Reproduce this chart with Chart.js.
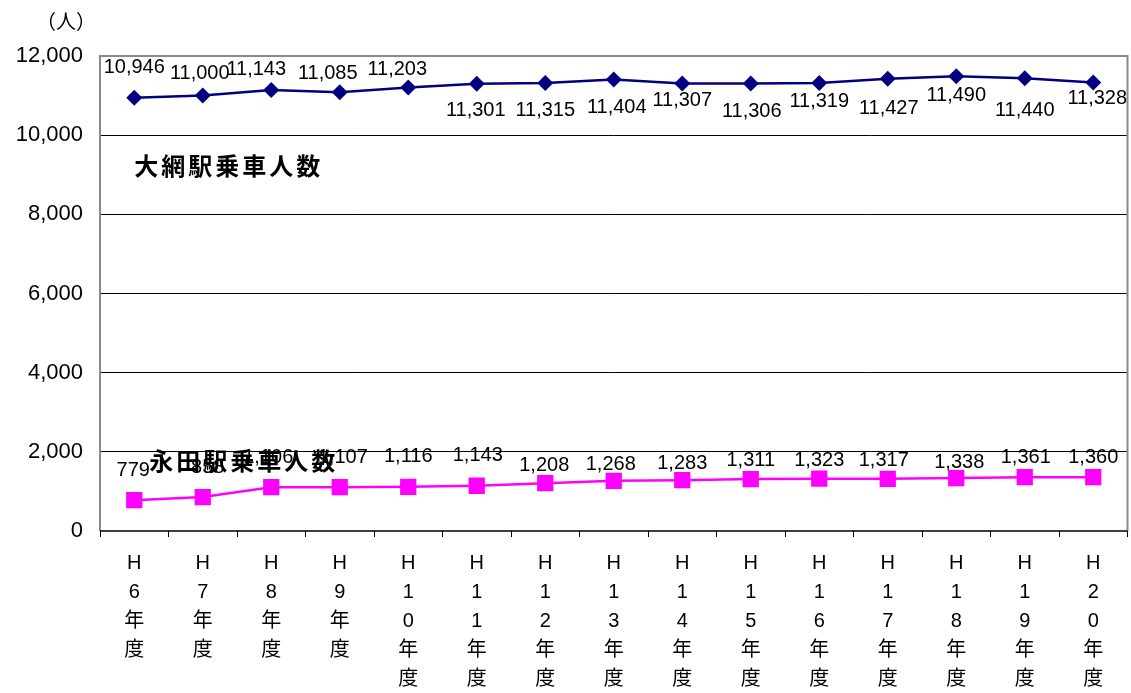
<!DOCTYPE html>
<html>
<head>
<meta charset="utf-8">
<script src="https://cdn.jsdelivr.net/npm/chart.js@4"></script>
<style>
  body { margin: 0; background: #fff; }
  #wrap { position: relative; width: 1131px; height: 693px; }
</style>
</head>
<body>
<div id="wrap"><canvas id="chart" width="1131" height="693"></canvas></div>
<script>
const years = ['6', '7', '8', '9', '10', '11', '12', '13', '14', '15', '16', '17', '18', '19', '20'];
const oamiRiders = [10946, 11000, 11143, 11085, 11203, 11301, 11315, 11404, 11307, 11306, 11319, 11427, 11490, 11440, 11328];
const nagataRiders = [779, 858, 1106, 1107, 1116, 1143, 1208, 1268, 1283, 1311, 1323, 1317, 1338, 1361, 1360];
const yTicks = [0, 2000, 4000, 6000, 8000, 10000, 12000];
const seriesNames = ['大網駅乗車人数', '永田駅乗車人数'];
const unitLabel = '（人）';

// label offsets from each point (px), as laid out in the original
const oamiOffsets = [[0, -30], [-3, -22], [-15, -20], [-12, -19], [-11, -18], [-1, 27], [0, 27], [3, 28], [0, 17], [1, 28], [0, 19], [1, 30], [0, 19], [0, 32], [4, 16]];
const nagataOffsets = [[-1, -30], [5, -30], [-3, -30], [3, -30], [0, -30], [1, -30], [-1, -18], [-3, -16], [0, -17], [0, -19], [0, -18], [-4, -18], [3, -16], [1, -20], [0, -20]];

const FONT = '"Liberation Sans", "Noto Sans CJK JP", sans-serif';
const JP = '"Noto Sans CJK JP", sans-serif';

// year label "H 1 0 年 度" stacked one character per line
const labels = years.map((y) => ['H', ...y.split(''), '年', '度']);

function fmt(v) {
  return v.toLocaleString('en-US');
}

const decor = {
  id: 'decor',
  beforeDatasetsDraw(chart) {
    const { ctx, chartArea: a } = chart;
    ctx.save();
    ctx.strokeStyle = '#8a8a8a';
    ctx.lineWidth = 2;
    ctx.beginPath();
    ctx.moveTo(a.left, a.bottom);
    ctx.lineTo(a.left, a.top);
    ctx.lineTo(a.right, a.top);
    ctx.lineTo(a.right, a.bottom);
    ctx.stroke();
    ctx.strokeStyle = '#000';
    ctx.lineWidth = 1.5;
    ctx.beginPath();
    ctx.moveTo(a.left, a.bottom);
    ctx.lineTo(a.right, a.bottom);
    ctx.stroke();
    ctx.restore();
  },
  afterDatasetsDraw(chart) {
    const { ctx, scales } = chart;
    ctx.save();
    ctx.fillStyle = '#000';
    ctx.font = '20px ' + FONT;
    ctx.textAlign = 'center';
    ctx.textBaseline = 'middle';
    const offs = [oamiOffsets, nagataOffsets];
    chart.data.datasets.forEach((ds, di) => {
      chart.getDatasetMeta(di).data.forEach((pt, i) => {
        const [dx, dy] = offs[di][i];
        ctx.fillText(fmt(ds.data[i]), pt.x + dx, pt.y + dy);
      });
    });
    // series names, written over the plot
    ctx.font = 'bold 24px ' + JP;
    ctx.textAlign = 'left';
    const names = [[seriesNames[0], 0, 9220], [seriesNames[1], 15, 1770]];
    for (const [txt, dx, v] of names) {
      let x = scales.x.getPixelForValue(0) + dx;
      const y = scales.y.getPixelForValue(v);
      for (const ch of txt) {
        ctx.fillText(ch, x, y);
        x += 27;
      }
    }
    ctx.font = '20px ' + JP;
    ctx.textAlign = 'center';
    ctx.fillText(unitLabel, 66, 21);
    ctx.restore();
  },
};

new Chart(document.getElementById('chart'), {
  type: 'line',
  data: {
    labels,
    datasets: [
      {
        label: seriesNames[0],
        data: oamiRiders,
        borderColor: '#000080',
        backgroundColor: '#000080',
        borderWidth: 2.5,
        pointStyle: 'rectRot',
        pointRadius: 8,
        pointBorderWidth: 0,
        tension: 0,
      },
      {
        label: seriesNames[1],
        data: nagataRiders,
        borderColor: '#ff00ff',
        backgroundColor: '#ff00ff',
        borderWidth: 2.5,
        pointStyle: 'rect',
        pointRadius: 11.5,
        pointBorderWidth: 0,
        tension: 0,
      },
    ],
  },
  options: {
    responsive: false,
    animation: false,
    devicePixelRatio: 1,
    layout: { autoPadding: false, padding: { left: 0, right: 3.5, top: 56, bottom: 0 } },
    plugins: { legend: { display: false }, tooltip: { enabled: false } },
    scales: {
      x: {
        offset: true,
        afterFit: (s) => { s.height = 162; s.paddingLeft = 0; s.paddingRight = 0; },
        grid: { offset: true, drawOnChartArea: false, drawTicks: true, tickLength: 6, color: '#000' },
        border: { display: false },
        ticks: { color: '#000', font: { family: FONT, size: 20, lineHeight: '29px' }, padding: 12, maxRotation: 0, autoSkip: false },
      },
      y: {
        min: 0,
        max: 12000,
        afterFit: (s) => { s.width = 100; },
        afterBuildTicks: (s) => { s.ticks = yTicks.map((v) => ({ value: v })); },
        grid: {
          drawTicks: false,
          color: (c) => (c.tick.value === 0 || c.tick.value === 12000 ? 'rgba(0,0,0,0)' : '#000'),
          lineWidth: 1,
        },
        border: { display: false },
        ticks: { color: '#000', font: { family: FONT, size: 22 }, padding: 17, callback: (v) => fmt(v) },
      },
    },
  },
  plugins: [decor],
});
</script>
</body>
</html>
